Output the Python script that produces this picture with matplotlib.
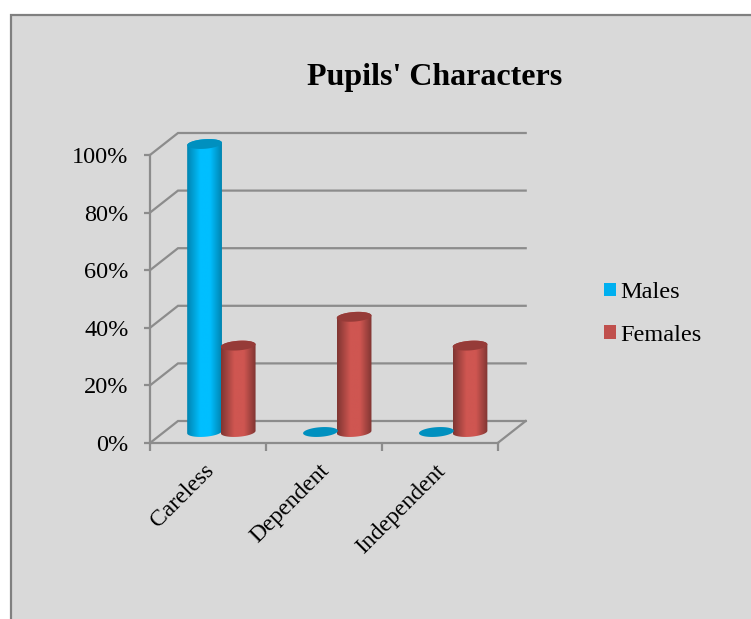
import numpy as np
import matplotlib
matplotlib.use("Agg")
import matplotlib.pyplot as plt
from matplotlib.colors import LinearSegmentedColormap
from matplotlib.patches import Patch, PathPatch, Rectangle, Polygon
from matplotlib.path import Path
from matplotlib.transforms import ScaledTranslation

categories = ["Careless", "Dependent", "Independent"]
males = [100, 0, 0]
females = [30, 40, 30]
y_ticks = [0, 20, 40, 60, 80, 100]
y_labels = ["0%", "20%", "40%", "60%", "80%", "100%"]
title = "Pupils' Characters"

W, H = 751, 619
plt.rcParams["font.family"] = ["Liberation Serif", "DejaVu Serif"]
fig = plt.figure(figsize=(W / 100, H / 100), dpi=100, facecolor="white")

# chart background panel, its right and bottom edges run off the picture
fig.add_artist(Rectangle((10.5 / W, -0.1), 1.1, (H - 15) / H + 0.1, transform=fig.transFigure,
                         facecolor="#D9D9D9", edgecolor="#808080", linewidth=1.6, zorder=-5))

L, R, B, T = 150, 497.7, 443, 155
ax = fig.add_axes([L / W, (H - B) / H, (R - L) / W, (B - T) / H])
ax.patch.set_alpha(0)
ax.set_xlim(0, len(categories))
ax.set_ylim(0, 100)

px_x = (R - L) / len(categories)
px_y = (B - T) / 100
DX = 28 / px_x          # chart depth in category units
DY = 22 / px_y          # chart depth in value units
GRID = "#8C8C8C"
LW = 1.6

# walls
for y in y_ticks:
    ax.plot([0, DX, len(categories) + DX], [y, y + DY, y + DY], color=GRID, lw=LW,
            clip_on=False, zorder=1, solid_joinstyle="miter")
ax.plot([len(categories), len(categories) + DX], [0, DY], color=GRID, lw=LW, clip_on=False, zorder=1)

BAR_W = 0.30
EB = 4.8 / px_y         # ellipse half height
SLOPE = 0.07 * (BAR_W / 2 * px_x) / px_y  # tilt of the ellipse


def ellipse_pts(cx, cy, t):
    a = BAR_W / 2
    return np.column_stack([cx + a * np.cos(t), cy + EB * np.sin(t) + SLOPE * np.cos(t)])


def cylinder(cx, val, edge, mid, cap):
    cx = cx + DX / 2
    y0 = DY / 2
    y1 = y0 + val
    a = BAR_W / 2
    if val > 0:
        top = ellipse_pts(cx, y1, np.linspace(0, np.pi, 40))
        low = ellipse_pts(cx, y0, np.linspace(np.pi, 2 * np.pi, 40))
        pts = np.vstack([top, low, top[:1]])
        clip = PathPatch(Path(pts), transform=ax.transData, facecolor="none", edgecolor="none")
        ax.add_patch(clip)
        cmap = LinearSegmentedColormap.from_list("c", [(0, edge), (0.38, mid), (0.66, mid), (1, edge)])
        im = ax.imshow(np.linspace(0, 1, 128)[None, :], cmap=cmap, aspect="auto",
                       extent=(cx - a, cx + a, y0 - 2 * EB, y1 + 2 * EB), zorder=3,
                       interpolation="bilinear")
        im.set_clip_box(fig.bbox)
        im.set_clip_path(clip)
    ax.add_patch(Polygon(ellipse_pts(cx, y1, np.linspace(0, 2 * np.pi, 60)), closed=True,
                         facecolor=cap, edgecolor="none", zorder=4, clip_on=False))


for i, (m, f) in enumerate(zip(males, females)):
    cylinder(i + 0.35, m, "#0084B0", "#00BFFF", "#0090BF")
    cylinder(i + 0.64, f, "#7F3532", "#CF5651", "#963B38")

ax.set_xlim(0, len(categories))
ax.set_ylim(0, 100)

for s in ("top", "right"):
    ax.spines[s].set_visible(False)
for s in ("left", "bottom"):
    ax.spines[s].set_color(GRID)
    ax.spines[s].set_linewidth(LW)

ax.set_yticks(y_ticks, y_labels)
ax.tick_params(axis="y", length=4.5, width=LW, color=GRID, labelsize=17.5, pad=11, labelcolor="black")
ax.set_xticks(np.arange(len(categories) + 1), [""] * (len(categories) + 1))
ax.tick_params(axis="x", which="major", length=6, width=LW, color=GRID)
ax.set_xticks(np.arange(len(categories)) + 0.5, categories, minor=True)
ax.tick_params(axis="x", which="minor", length=0, labelsize=17, pad=11, labelcolor="black")
shift = ScaledTranslation(-5 / 100, -2 / 100, fig.dpi_scale_trans)
for lab in ax.get_xticklabels(minor=True):
    lab.set_rotation(45)
    lab.set_rotation_mode("anchor")
    lab.set_ha("right")
    lab.set_va("top")
    lab.set_transform(lab.get_transform() + shift)

fig.text(434.5 / W, (H - 77) / H, title, fontsize=23, fontweight="bold", ha="center", va="center", color="black")

handles = [Patch(facecolor="#00B0F0", label="Males"), Patch(facecolor="#C0504D", label="Females")]
fig.legend(handles=handles, loc="upper left", bbox_to_anchor=(604 / W, (H - 282) / H),
           frameon=False, fontsize=17.5, handlelength=0.49, handleheight=0.49, handletextpad=0.2,
           labelspacing=0.9, borderpad=0, borderaxespad=0, labelcolor="black")

fig.savefig("out.png", dpi=100, facecolor="white")
